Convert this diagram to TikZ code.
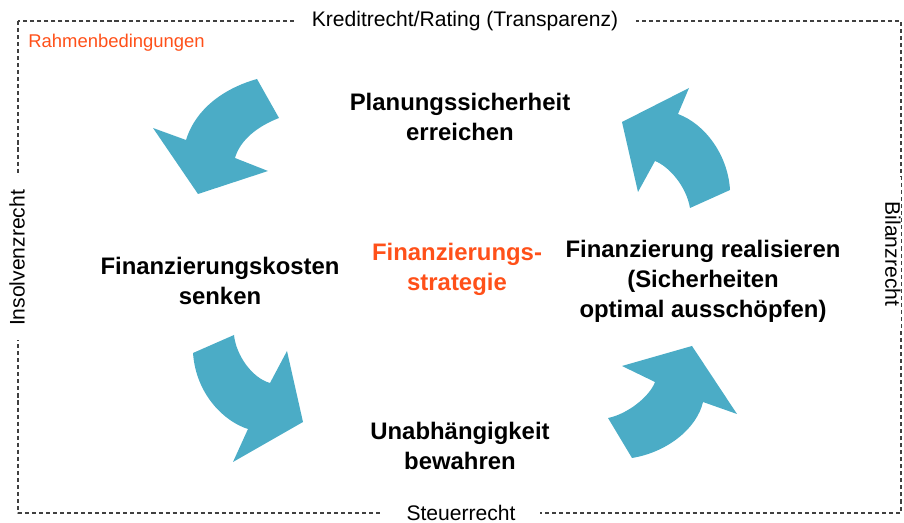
\documentclass[tikz,border=0pt]{standalone}
\usepackage{fontspec}
\setmainfont{Liberation Sans}
\definecolor{pfeil}{RGB}{75,172,198}
\definecolor{rot}{RGB}{255,80,25}

\begin{document}
\begin{tikzpicture}[x=0.02cm, y=-0.02cm, line join=round,
		rand/.style={font=\fontsize{12}{14}\selectfont, fill=white, inner ysep=2pt},
		ziel/.style={font=\bfseries\fontsize{13.6}{17}\selectfont, align=center}]
	\useasboundingbox (0,0) rectangle (904,523);
	% Rahmen
	\draw[black!75, line width=0.6pt, dash pattern=on 2.3pt off 1.7pt] (18,21) rectangle (901,513);
	\node[rand, inner xsep=10pt] (kredit) at (465,21) {Kreditrecht/Rating (Transparenz)};
	\node[rand, inner xsep=8pt, rotate=90] (insolvenz) at (17,258) {Insolvenzrecht};
	\node[rand, inner xsep=14pt, inner ysep=0pt, rotate=-90] (bilanz) at (893,254) {Bilanzrecht};
	\node[rand, inner xsep=14pt] (steuer) at (461,513) {Steuerrecht};
	\node[text=rot, font=\fontsize{10.5}{12}\selectfont, anchor=west, inner sep=0pt] (rahmen) at (28,43) {Rahmenbedingungen};
	% Pfeile
	\fill[pfeil] (257,79) -- (279,118) .. controls (258,126) and (240,140) .. (235,158)
		-- (268,171) -- (198,194) -- (153,128) -- (186,140)
		.. controls (196,108) and (225,88) .. (257,79) -- cycle;
	\fill[pfeil] (730,190) -- (690,208) .. controls (686,185) and (668,166) .. (655,161)
		-- (638,192) -- (622,122) -- (689,88) -- (678,114)
		.. controls (705,124) and (728,155) .. (730,190) -- cycle;
	\fill[pfeil] (193,353) -- (234,335) .. controls (236,355) and (252,378) .. (270,383)
		-- (287,351) -- (303,422) -- (233,462) -- (248,429)
		.. controls (225,422) and (196,395) .. (193,353) -- cycle;
	\fill[pfeil] (632,458) -- (608,418) .. controls (628,414) and (650,396) .. (655,382)
		-- (622,366) -- (692,346) -- (737,414) -- (703,402)
		.. controls (697,428) and (668,452) .. (632,458) -- cycle;
	% Ziele
	\node[ziel] (planung) at (460,117) {Planungssicherheit\\erreichen};
	\node[ziel] (kosten) at (220,281) {Finanzierungskosten\\senken};
	\node[ziel, text=rot] (strategie) at (457,269) {Finanzierungs-\\strategie};
	\node[ziel] (realisieren) at (703,281) {Finanzierung realisieren\\(Sicherheiten\\optimal ausschöpfen)};
	\node[ziel] (unabh) at (460,446) {Unabhängigkeit\\bewahren};
\end{tikzpicture}
\end{document}
